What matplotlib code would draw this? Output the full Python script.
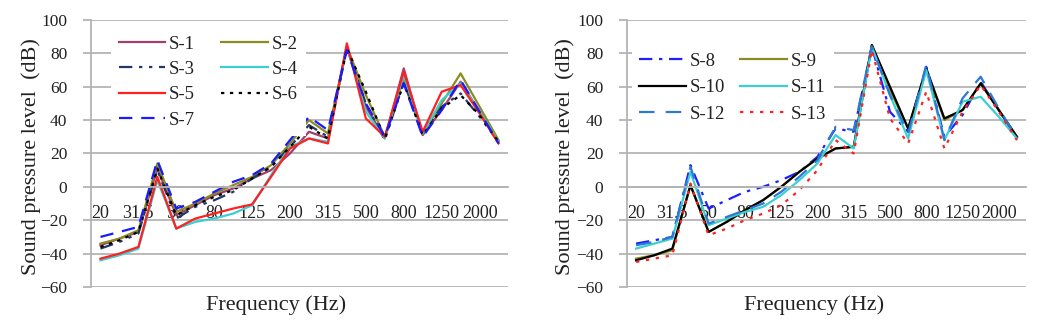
import matplotlib
matplotlib.use("Agg")
import matplotlib.pyplot as plt
import numpy as np

# Data
freqs = ["20", "25", "31.5", "40", "50", "63", "80", "100", "125", "160", "200",
         "250", "315", "400", "500", "630", "800", "1000", "1250", "1600", "2000", "2500"]

s1 = [-35, -31, -27, 11, -17, -11, -5, -1, 5, 10, 20, 33, 29, 84, 48, 29, 71, 31, 46, 63, 45, 27]
s2 = [-34, -31, -26, 14, -15, -10, -4, 1, 6, 13, 26, 40, 32, 84, 55, 30, 65, 32, 50, 68, 48, 28]
s3 = [-37, -33, -28, 10, -19, -12, -8, -3, 5, 12, 24, 37, 30, 83, 50, 28, 63, 31, 48, 56, 42, 27]
s4 = [-44, -41, -37, 4, -25, -21, -19, -16, -11, 7, 24, 29, 27, 84, 45, 29, 67, 32, 52, 62, 45, 27]
s5 = [-43, -40, -36, 6, -25, -19, -16, -13, -10.5, 6, 23, 29, 26, 86, 41, 30, 69, 33, 57, 61, 44, 26]
s6 = [-36, -32, -27, 11, -17, -11, -6, -2, 5, 12, 24, 36, 29, 83, 57, 29, 62, 31, 47, 55, 43, 27]
s7 = [-30, -27, -24, 16, -13, -9, -3, 3, 7, 14, 28, 42, 34, 82, 50, 30, 62, 30, 46, 64, 45, 26]

s8 = [-34, -32, -30, 13, -13, -8, -3, 0, 4, 9, 18, 35, 33, 84, 45, 33, 72, 30, 43, 63, 46, 29]
s9 = [-43, -41, -38, 1, -27, -21, -14, -8, 0, 9, 17, 23, 24, 85, 58, 35, 70, 40, 46, 62, 46, 30]
s10 = [-44, -41, -37, 1, -27, -21, -14, -8, 0, 9, 17, 23, 24, 85, 60, 35, 71, 41, 46, 62, 46, 30]
s11 = [-37, -34, -31, 9, -23, -19, -15, -12, -5, 4, 14, 31, 23, 84, 55, 29, 70, 28, 51, 54, 42, 29]
s12 = [-35, -33, -30, 12, -22, -18, -14, -10, -3, 6, 16, 36, 34, 84, 55, 32, 73, 28, 53, 66, 47, 29]
s13 = [-45, -43, -41, 2, -29, -25, -20, -16, -11, -2, 10, 28, 20, 82, 41, 26, 57, 23, 45, 61, 45, 28]

left_series = [
    ("S-1", s1, "#a0406e", (None, None)),
    ("S-2", s2, "#8c8c1e", (None, None)),
    ("S-3", s3, "#1f3864", (6, 3, 1.5, 3, 1.5, 3)),
    ("S-4", s4, "#3ccfcf", (None, None)),
    ("S-5", s5, "#ff2020", (None, None)),
    ("S-6", s6, "#000000", (1.5, 2.5)),
    ("S-7", s7, "#1a1aff", (6, 4)),
]
right_series = [
    ("S-8", s8, "#2020ff", (6, 3, 1.5, 3)),
    ("S-9", s9, "#8c8c1e", (None, None)),
    ("S-10", s10, "#000000", (None, None)),
    ("S-11", s11, "#3ccfcf", (None, None)),
    ("S-12", s12, "#2e78d6", (7, 5)),
    ("S-13", s13, "#ff2020", (1.5, 3)),
]

plt.rcParams["font.family"] = ["Liberation Serif", "DejaVu Serif"]
GRID = "#b4b4b4"
TXT = "#222222"

fig = plt.figure(figsize=(10.41, 3.29), dpi=100)
ax1 = fig.add_axes([0.0874, 0.1277, 0.4006, 0.8116])
ax2 = fig.add_axes([0.6023, 0.1277, 0.3833, 0.8116])

x = np.arange(len(freqs))


def style_axis(ax, series, ncol_order, leg_anchor, colspace, labspace, lab_x, ylab_x):
    handles = {}
    for name, vals, color, dash in series:
        (ln,) = ax.plot(x, vals, color=color, lw=1.6, label=name)
        if dash[0] is not None:
            ln.set_dashes(dash)
        handles[name] = ln

    ax.set_xlim(-0.5, len(freqs) - 0.5)
    ax.set_ylim(-60, 100)
    ax.set_yticks(range(-60, 101, 20))
    ax.yaxis.grid(True, color=GRID, lw=1.3)
    ax.set_axisbelow(True)

    for side in ("top", "right"):
        ax.spines[side].set_visible(False)
    ax.spines["left"].set_color(GRID)
    ax.spines["left"].set_linewidth(1.3)
    ax.spines["bottom"].set_position(("data", 0))
    ax.spines["bottom"].set_color(GRID)
    ax.spines["bottom"].set_linewidth(1.3)

    ax.set_xticks(x[::2])
    ax.set_xticklabels(freqs[::2])
    ax.tick_params(axis="x", length=0, pad=13, labelsize=13, labelcolor=TXT)
    ax.tick_params(axis="y", length=6, color=GRID, width=1.3, pad=11,
                   labelsize=12.5, labelcolor=TXT)

    ax.set_xlabel("Frequency (Hz)", fontsize=16, color=TXT)
    ax.xaxis.set_label_coords(lab_x, -0.03)
    ax.set_ylabel("Sound pressure level  (dB)", fontsize=16, color=TXT)
    ax.yaxis.set_label_coords(ylab_x, 0.49)

    leg = ax.legend([handles[n] for n in ncol_order], ncol_order, ncol=2,
                    loc="upper left", bbox_to_anchor=leg_anchor, fontsize=13.5,
                    handlelength=2.5, handletextpad=0.2, columnspacing=colspace,
                    labelspacing=labspace, frameon=True, fancybox=False,
                    borderaxespad=0)
    leg.get_frame().set_edgecolor("none")
    leg.get_frame().set_facecolor("white")
    leg.get_frame().set_alpha(1)
    for t in leg.get_texts():
        t.set_color(TXT)


style_axis(ax1, left_series, ["S-1", "S-3", "S-5", "S-7", "S-2", "S-4", "S-6"],
           (0.048, 0.97), 1.4, 0.44, 0.444, -0.121)
style_axis(ax2, right_series, ["S-8", "S-10", "S-12", "S-9", "S-11", "S-13"],
           (0.0125, 0.905), 0.8, 0.5, 0.469, -0.13)

fig.savefig("out.png", dpi=100)
